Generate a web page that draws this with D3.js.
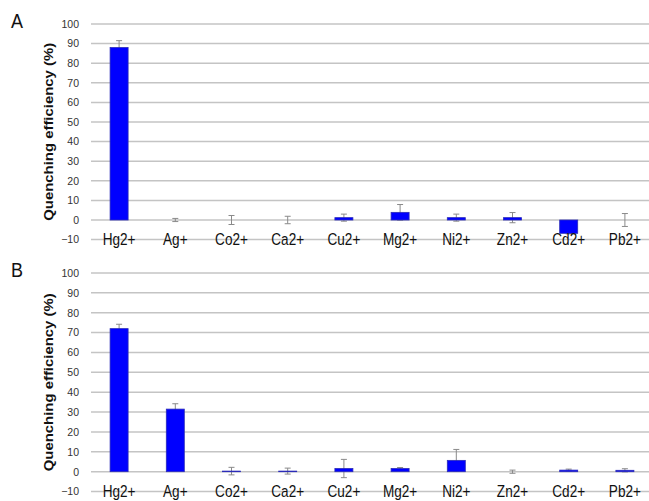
<!DOCTYPE html>
<html>
<head>
<meta charset="utf-8">
<script src="https://cdn.jsdelivr.net/npm/d3@7"></script>
<style>
body { margin: 0; background: #fff; }
text { font-family: "Liberation Sans", Arial, sans-serif; }
</style>
</head>
<body>
<div id="chart"></div>
<script>
// Data
var ions = ["Hg2+", "Ag+", "Co2+", "Ca2+", "Cu2+", "Mg2+", "Ni2+", "Zn2+", "Cd2+", "Pb2+"];
var valuesA = [88, 0, 0, 0, 1.2, 3.9, 1.2, 1.2, -6.8, 0];
var errorsA = [3.5, 0.8, 2.3, 1.9, 1.8, 4, 1.8, 2.6, 0.3, 3.3];
var valuesB = [72, 31.5, 0.3, 0.3, 1.6, 1.6, 5.7, 0, 0.8, 0.7];
var errorsB = [2.2, 2.7, 1.9, 1.5, 4.6, 0.5, 5.5, 0.8, 0.5, 0.8];
var yTicks = [-10, 0, 10, 20, 30, 40, 50, 60, 70, 80, 90, 100];

var svgWidth = 649;
var svgHeight = 501;

var svg = d3.select("#chart")
  .append("svg")
  .attr("width", svgWidth)
  .attr("height", svgHeight);

var xScale = d3.scaleBand()
  .domain(ions)
  .range([91, 653])
  .padding(0);

var barWidth = 18;
var cx = d => xScale(d) + xScale.bandwidth() / 2;

function drawPanel(letter, values, errors, top, zeroY) {
  // y scale: 100 at top, 0 at zeroY
  var yScale = d3.scaleLinear()
    .domain([0, 100])
    .range([zeroY, top]);

  var g = svg.append("g");

  // gridlines
  g.selectAll("line.grid")
    .data(yTicks)
    .enter()
    .append("line")
    .attr("class", "grid")
    .attr("x1", 91)
    .attr("x2", svgWidth)
    .attr("y1", d => yScale(d))
    .attr("y2", d => yScale(d))
    .attr("stroke", "#c4c4c4")
    .attr("stroke-width", 1.5);

  // y axis tick labels
  var leftAxis = d3.axisLeft(yScale).tickValues(yTicks).tickSize(0).tickPadding(0);
  var axisG = g.append("g")
    .attr("transform", "translate(79,0)")
    .call(leftAxis);
  axisG.select(".domain").remove();
  axisG.selectAll("text")
    .attr("font-size", "10.5px")
    .attr("font-family", "Liberation Sans, Arial, sans-serif")
    .attr("fill", "#333");

  // error bars (behind the bars)
  var errG = g.selectAll("g.err")
    .data(values)
    .enter()
    .append("g")
    .attr("class", "err")
    .attr("stroke", "#8a8a8a")
    .attr("stroke-width", 1);
  errG.append("line")
    .attr("x1", (d, i) => cx(ions[i]))
    .attr("x2", (d, i) => cx(ions[i]))
    .attr("y1", (d, i) => yScale(d + errors[i]))
    .attr("y2", (d, i) => yScale(d - errors[i]));
  errG.append("line")
    .attr("x1", (d, i) => cx(ions[i]) - 3)
    .attr("x2", (d, i) => cx(ions[i]) + 3)
    .attr("y1", (d, i) => yScale(d + errors[i]))
    .attr("y2", (d, i) => yScale(d + errors[i]));
  errG.append("line")
    .attr("x1", (d, i) => cx(ions[i]) - 3)
    .attr("x2", (d, i) => cx(ions[i]) + 3)
    .attr("y1", (d, i) => yScale(d - errors[i]))
    .attr("y2", (d, i) => yScale(d - errors[i]));

  // bars
  g.selectAll("rect.bar")
    .data(values)
    .enter()
    .append("rect")
    .attr("class", "bar")
    .attr("x", (d, i) => cx(ions[i]) - barWidth / 2)
    .attr("y", d => yScale(Math.max(d, 0)))
    .attr("width", barWidth)
    .attr("height", d => Math.abs(yScale(d) - yScale(0)))
    .attr("fill", "#0000ff")
    .attr("stroke", "#2b2bb8")
    .attr("stroke-width", 0.8);

  // category labels
  g.selectAll("text.cat")
    .data(ions)
    .enter()
    .append("text")
    .attr("class", "cat")
    .attr("transform", d => `translate(${cx(d)}, ${yScale(-10) + 5.5}) scale(0.97, 1.12)`)
    .attr("text-anchor", "middle")
    .attr("font-size", "14px")
    .attr("fill", "#111")
    .text(d => d);

  // y axis title
  var midY = (yScale(-10) + yScale(100)) / 2;
  g.append("text")
    .attr("transform", `translate(53, ${midY}) rotate(-90)`)
    .attr("text-anchor", "middle")
    .attr("font-size", "12.5px")
    .attr("font-weight", "bold")
    .attr("textLength", 178)
    .attr("lengthAdjust", "spacingAndGlyphs")
    .attr("fill", "#111")
    .text("Quenching efficiency (%)");

  // panel letter
  g.append("text")
    .attr("transform", `translate(11, ${top + 4}) scale(1, 1.1)`)
    .attr("font-size", "18px")
    .attr("fill", "#111")
    .text(letter);
}

drawPanel("A", valuesA, errorsA, 24, 220);
drawPanel("B", valuesB, errorsB, 273, 471.7);
</script>
</body>
</html>
